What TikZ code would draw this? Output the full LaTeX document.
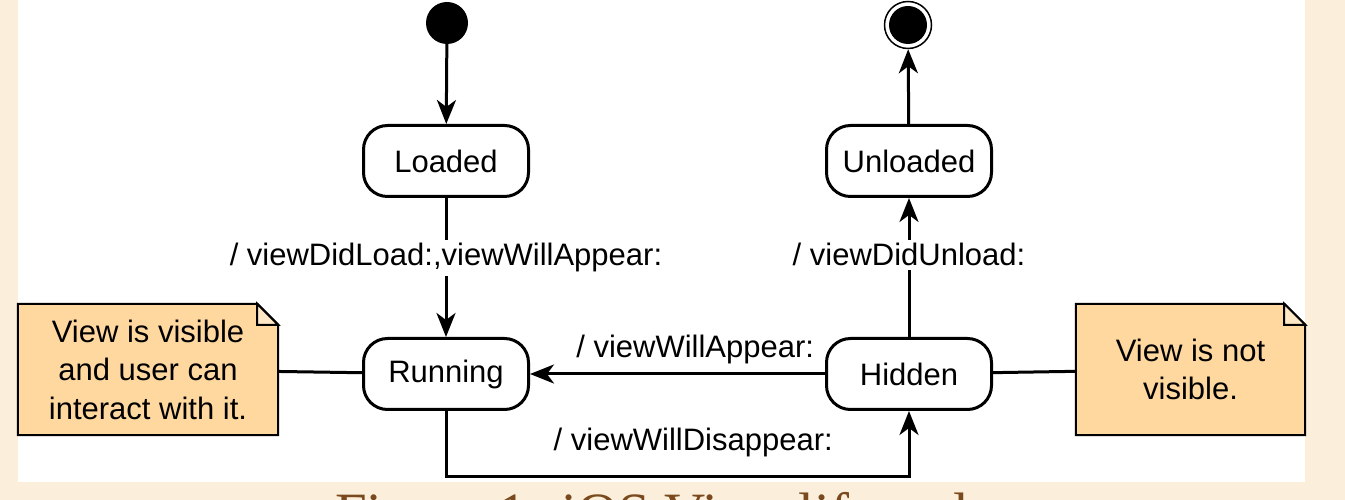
\documentclass[tikz,border=0pt]{standalone}
\usepackage{fontspec}
\setmainfont{Liberation Sans}
\newfontfamily\captionserif{Liberation Serif}
\usetikzlibrary{arrows.meta,backgrounds}
\definecolor{pagecream}{RGB}{251,239,219}
\definecolor{notefill}{RGB}{255,216,160}
\definecolor{foldfill}{RGB}{255,232,198}
\definecolor{captionbrown}{RGB}{122,74,30}

\begin{document}
\begin{tikzpicture}[x=1pt,y=1pt,
    txt/.style={font=\fontsize{31}{38.5}\selectfont},
    state/.style={txt, draw, line width=3pt, rounded corners=24pt,
        minimum width=165pt, minimum height=71pt, inner sep=0pt},
    trans/.style={line width=3pt, -{Stealth[length=24pt,width=19pt,inset=7pt]}},
    guard/.style={txt, fill=white, inner sep=4pt, anchor=base},
    notebox/.style={txt, align=center, minimum height=131pt, inner sep=0pt},
    notelink/.style={line width=3pt}]
    \useasboundingbox (0,0) rectangle (1345,500);

    % initial and final pseudo states
    \node[circle, fill=black, minimum size=42pt, inner sep=0pt] (start) at (447,477) {};
    \node[circle, draw, line width=1.5pt, minimum size=47pt, inner sep=0pt,
        path picture={\fill (path picture bounding box.center) circle (19pt);}] (final) at (908,475) {};

    % states
    \node[state] (loaded) at (446,339) {Loaded};
    \node[state] (unloaded) at (909,339) {Unloaded};
    \node[state] (running) at (446,126) {Running};
    \node[state] (hidden) at (909,126) {Hidden};

    % notes
    \node[notebox, minimum width=260pt] (visnote) at (148,130.5)
        {View is visible\\and user can\\interact with it.};
    \node[notebox, minimum width=229pt] (hidnote) at (1190.5,130.5)
        {View is not\\visible.};

    % transitions
    \draw[trans] (start) -- (loaded);
    \draw[trans] (loaded) -- node[guard, pos=0.489] {/ viewDidLoad:,viewWillAppear:} (running);
    \draw[trans] (hidden) -- node[guard, pos=0.511] {/ viewDidUnload:} (unloaded);
    \draw[trans] (unloaded) -- (final);
    \draw[trans] (hidden) -- node[txt, anchor=base, pos=0.44, yshift=16pt] {/ viewWillAppear:} (running);
    \draw[trans] (running.south) -- ++(0,-66)
        -| node[txt, anchor=base, pos=0.267, yshift=26pt] {/ viewWillDisappear:} (hidden.south);

    \draw[notelink] (visnote) -- (running);
    \draw[notelink] (hidden) -- (hidnote);

    % cut off caption below the panel
    \node[anchor=base west, inner sep=0pt, text=captionbrown,
        font=\captionserif\fontsize{57}{60}\selectfont] (caption) at (335,-33)
        {Figure 1: iOS View lifecycle};

    \begin{scope}[on background layer]
        \fill[pagecream] (0,0) rectangle (1345,500);
        \fill[white] (18,18) rectangle (1305,500);
        \foreach \n in {visnote,hidnote}{
            \draw[line width=2pt, fill=notefill] (\n.south west) -- (\n.north west)
                -- ([xshift=-21pt]\n.north east) -- ([yshift=-21pt]\n.north east)
                -- (\n.south east) -- cycle;
            \draw[line width=2pt, fill=foldfill] ([xshift=-21pt]\n.north east)
                |- ([yshift=-21pt]\n.north east) -- cycle;
        }
    \end{scope}
\end{tikzpicture}
\end{document}
